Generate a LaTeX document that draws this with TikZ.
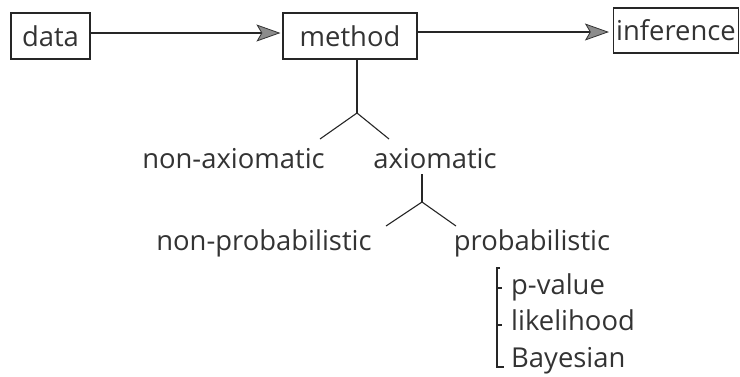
\documentclass[tikz,border=0pt]{standalone}
\usepackage{fontspec}
\setmainfont{Open Sans}
\usetikzlibrary{arrows.meta}
\begin{document}
\begin{tikzpicture}[x=1pt,y=-1pt,
  every node/.style={font=\fontsize{27.4}{33}\selectfont, text=black!80, inner sep=0pt},
  boxnode/.style={draw=black!85, line width=1.1pt},
  line/.style={draw=black!85, line width=1.1pt},
  arr/.style={line, -{Stealth[length=24pt, width=17pt, inset=5pt, fill=black!45, color=black!80, line width=0.8pt]}}]
\useasboundingbox (0,0) rectangle (740,376);
% boxes
\node[boxnode, minimum width=79pt, minimum height=46pt] (data) at (50.5,36) {data};
\node[boxnode, minimum width=134pt, minimum height=46pt] (method) at (350,36) {method};
\node[boxnode, minimum width=125pt, minimum height=45pt] (inf) at (676,30.5) {inference};
% arrows
\draw[arr] ([yshift=3pt]data.east) -- ([xshift=-2pt,yshift=3pt]method.west);
\draw[arr] ([yshift=4pt]method.east) -- ([xshift=-4pt,yshift=4pt]method.east -| inf.west);
% level 1
\node[anchor=base] (nonax) at (233.5,168) {non-axiomatic};
\node[anchor=base] (ax) at (435,168) {axiomatic};
\coordinate (f1) at (357,113);
\coordinate (f1l) at (320,139);
\coordinate (f1r) at (389,139);
\draw[line] (method.south -| f1) -- (f1);
\draw[line] (f1l) -- (f1) -- (f1r);
% level 2
\node[anchor=base] (nonprob) at (264,250) {non-probabilistic};
\node[anchor=base] (prob) at (532,250) {probabilistic};
\coordinate (f2top) at (422,174);
\coordinate (f2) at (422,202);
\coordinate (f2l) at (386,226);
\coordinate (f2r) at (456,226);
\draw[line] (f2top) -- (f2);
\draw[line] (f2l) -- (f2) -- (f2r);
% level 3
\node[anchor=base west] (pv) at (511,294) {p-value};
\node[anchor=base west] (lh) at (511,330) {likelihood};
\node[anchor=base west] (bay) at (511,367) {Bayesian};
\coordinate (b0) at (500,268);
\coordinate (b1) at (497,268);
\coordinate (b2) at (497,367);
\coordinate (b3) at (504,367);
\draw[line] (b0) -- (b1) -- (b2) -- (b3);
\draw[line] (b1 |- 0,288) -- (502,288);
\draw[line] (b1 |- 0,325) -- (502,325);
\end{tikzpicture}
\end{document}
